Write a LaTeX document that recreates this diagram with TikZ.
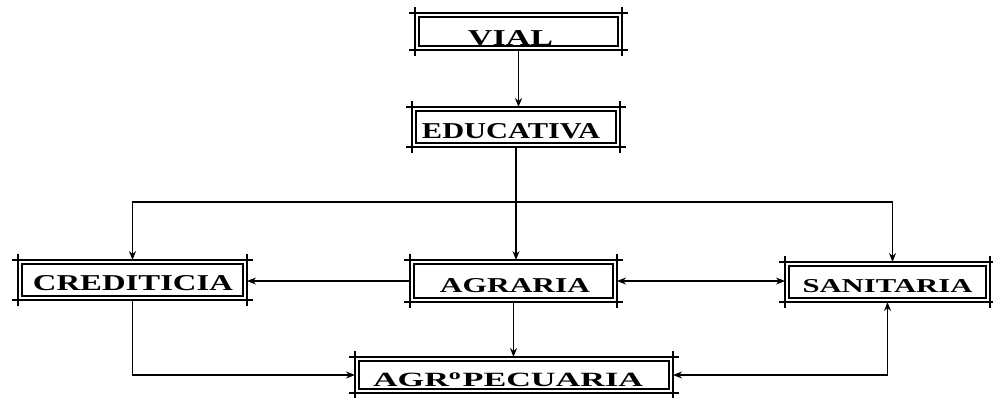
\documentclass[tikz,border=0pt]{standalone}
\usepackage{graphicx}
\usepackage{fontspec}
\setmainfont{Liberation Serif}
\usetikzlibrary{arrows.meta}

% label: dx, dy(down, from centre), width, height, text
\newcommand{\lbl}[5]{\smash{\makebox[0pt]{\hspace*{#1pt}\hspace*{#1pt}\raisebox{-#2pt}{\resizebox{#3pt}{#4pt}{\bfseries #5}}}}}

\newcommand{\frm}[1]{%
  \draw[frameline] ([xshift=-6pt]#1.north west) -- ([xshift=6pt]#1.north east);
  \draw[frameline] ([xshift=-6pt]#1.south west) -- ([xshift=6pt]#1.south east);
  \draw[frameline] ([yshift=6pt]#1.north west) -- ([yshift=-6pt]#1.south west);
  \draw[frameline] ([yshift=6pt]#1.north east) -- ([yshift=-6pt]#1.south east);
  \draw[innerline] ([shift={(4pt,-4pt)}]#1.north west) rectangle ([shift={(-4pt,4pt)}]#1.south east);
}

\begin{document}
\begin{tikzpicture}[x=1pt,y=-1pt,
  boxnode/.style={inner sep=0pt, outer sep=0pt},
  frameline/.style={line width=1.5pt},
  innerline/.style={line width=1.1pt},
  conn/.style={line width=1.2pt},
  tip/.style={-{Stealth[length=9pt,width=7pt]}},
  dtip/.style={{Stealth[length=9pt,width=7pt]}-{Stealth[length=9pt,width=7pt]}}
]
\useasboundingbox (0,0) rectangle (993,397);

\node[boxnode, minimum width=207, minimum height=37] (vial) at (518.5,31.5)
  {\lbl{-8}{13.5}{85}{15}{VIAL}};
\node[boxnode, minimum width=208, minimum height=40] (educ) at (516,127)
  {\lbl{-5}{11}{178}{15}{EDUCATIVA}};
\node[boxnode, minimum width=229, minimum height=40] (cred) at (132.5,280)
  {\lbl{0.5}{10}{200}{15}{CREDITICIA}};
\node[boxnode, minimum width=207, minimum height=42] (agra) at (513.5,281)
  {\lbl{1.5}{11.5}{150}{14}{AGRARIA}};
\node[boxnode, minimum width=205, minimum height=40] (sani) at (887.5,282)
  {\lbl{0}{10}{170}{13}{SANITARIA}};
\node[boxnode, minimum width=318, minimum height=36] (agro) at (514,375)
  {\lbl{-6}{11.5}{270}{14}{AGR\textsuperscript{o}PECUARIA}};

\frm{vial}
\frm{educ}
\frm{cred}
\frm{agra}
\frm{sani}
\frm{agro}

\coordinate (j) at (educ.south |- 0,202);

\draw[conn,tip] (vial.south) -- (vial.south |- educ.north);
\draw[conn,tip] (educ.south) -- (educ.south |- agra.north);
\draw[conn,tip] (j) -| (cred.north);
\draw[conn,tip] (j) -| ([xshift=5pt]sani.north);
\draw[conn,tip] (agra.west) -- (agra.west -| cred.east);
\draw[conn,dtip] (agra.east) -- (agra.east -| sani.west);
\draw[conn,tip] (agra.south) -- (agra.south |- agro.north);
\draw[conn,tip] (cred.south) |- (agro.west);
\draw[conn,dtip] (sani.south) |- (agro.east);
\end{tikzpicture}
\end{document}
